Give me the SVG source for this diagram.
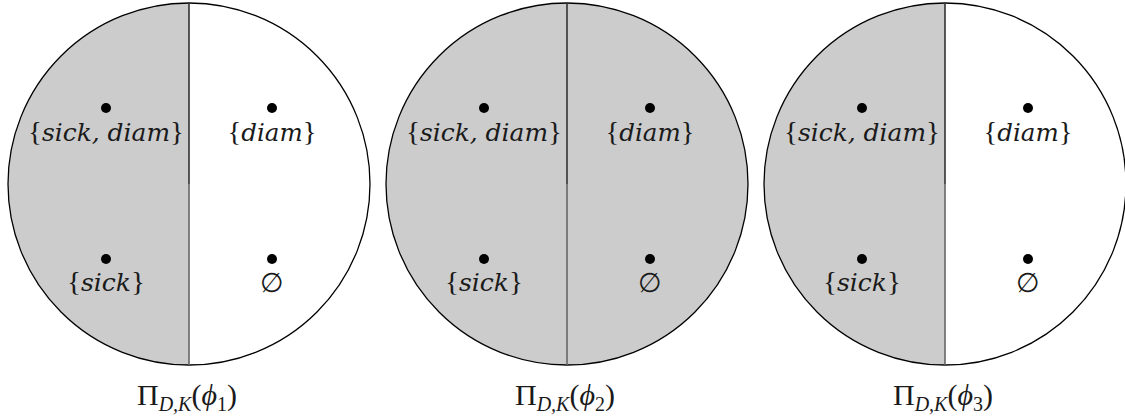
<svg xmlns="http://www.w3.org/2000/svg" width="1125" height="419" viewBox="0 0 1125 419">
<defs>
<style>
.bg{fill:#fff}
.circ{fill:none;stroke:#000;stroke-width:1.3}
.shade{fill:#cccccc;stroke:none}
.ltop{stroke:#333;stroke-width:1.6}
.lbot{stroke:#666;stroke-width:1.6}
.dot{fill:#000}
.lbl{font-family:'DejaVu Serif','Liberation Serif',serif;font-size:24px;font-style:italic;text-anchor:middle;fill:#1a1a1a}
.br{font-style:normal;font-family:'Liberation Serif',serif;font-size:28px}
.empty{font-family:'Liberation Serif',serif;font-size:27px;font-style:normal;text-anchor:middle;fill:#1a1a1a}
.cap{font-family:'Liberation Serif',serif;font-size:30px;fill:#1a1a1a;text-anchor:middle}
.sub{font-size:20px;font-style:italic}
.num{font-size:20px;font-style:normal}
.it{font-style:italic}
</style>
<clipPath id="cl1"><circle cx="189" cy="184" r="181"/></clipPath>
<clipPath id="cl3"><circle cx="945" cy="184" r="181"/></clipPath>
</defs>
<rect class="bg" x="0" y="0" width="1125" height="419"/>

<g id="diagram1">
<rect class="shade" x="0" y="0" width="189" height="370" clip-path="url(#cl1)"/>
<circle class="circ" cx="189" cy="184" r="181"/>
<line class="ltop" x1="189" y1="3" x2="189" y2="184"/>
<line class="lbot" x1="189" y1="184" x2="189" y2="365"/>
<circle class="dot" cx="106" cy="108" r="5"/>
<circle class="dot" cx="272" cy="108" r="5"/>
<circle class="dot" cx="106" cy="259" r="5"/>
<circle class="dot" cx="272" cy="259" r="5"/>
<text class="lbl" x="106" y="141" textLength="156" lengthAdjust="spacingAndGlyphs"><tspan class="br">{</tspan>sick, diam<tspan class="br">}</tspan></text>
<text class="lbl" x="272" y="141" textLength="89" lengthAdjust="spacingAndGlyphs"><tspan class="br">{</tspan>diam<tspan class="br">}</tspan></text>
<text class="lbl" x="106" y="291" textLength="78" lengthAdjust="spacingAndGlyphs"><tspan class="br">{</tspan>sick<tspan class="br">}</tspan></text>
<text class="empty" x="272" y="292">∅</text>
<text class="cap" x="187" y="405">Π<tspan class="sub" dy="6">D,K</tspan><tspan dy="-6">(</tspan><tspan class="it">ϕ</tspan><tspan class="num" dy="6">1</tspan><tspan dy="-6">)</tspan></text>
</g>

<g id="diagram2">
<circle class="shade" cx="567" cy="184" r="181"/>
<circle class="circ" cx="567" cy="184" r="181"/>
<line class="ltop" x1="567" y1="3" x2="567" y2="184"/>
<line class="lbot" x1="567" y1="184" x2="567" y2="365"/>
<circle class="dot" cx="484" cy="108" r="5"/>
<circle class="dot" cx="650" cy="108" r="5"/>
<circle class="dot" cx="484" cy="259" r="5"/>
<circle class="dot" cx="650" cy="259" r="5"/>
<text class="lbl" x="484" y="141" textLength="156" lengthAdjust="spacingAndGlyphs"><tspan class="br">{</tspan>sick, diam<tspan class="br">}</tspan></text>
<text class="lbl" x="650" y="141" textLength="89" lengthAdjust="spacingAndGlyphs"><tspan class="br">{</tspan>diam<tspan class="br">}</tspan></text>
<text class="lbl" x="484" y="291" textLength="78" lengthAdjust="spacingAndGlyphs"><tspan class="br">{</tspan>sick<tspan class="br">}</tspan></text>
<text class="empty" x="650" y="292">∅</text>
<text class="cap" x="565" y="405">Π<tspan class="sub" dy="6">D,K</tspan><tspan dy="-6">(</tspan><tspan class="it">ϕ</tspan><tspan class="num" dy="6">2</tspan><tspan dy="-6">)</tspan></text>
</g>

<g id="diagram3">
<rect class="shade" x="750" y="0" width="195" height="370" clip-path="url(#cl3)"/>
<circle class="circ" cx="945" cy="184" r="181"/>
<line class="ltop" x1="945" y1="3" x2="945" y2="184"/>
<line class="lbot" x1="945" y1="184" x2="945" y2="365"/>
<circle class="dot" cx="862" cy="108" r="5"/>
<circle class="dot" cx="1028" cy="108" r="5"/>
<circle class="dot" cx="862" cy="259" r="5"/>
<circle class="dot" cx="1028" cy="259" r="5"/>
<text class="lbl" x="862" y="141" textLength="156" lengthAdjust="spacingAndGlyphs"><tspan class="br">{</tspan>sick, diam<tspan class="br">}</tspan></text>
<text class="lbl" x="1028" y="141" textLength="89" lengthAdjust="spacingAndGlyphs"><tspan class="br">{</tspan>diam<tspan class="br">}</tspan></text>
<text class="lbl" x="862" y="291" textLength="78" lengthAdjust="spacingAndGlyphs"><tspan class="br">{</tspan>sick<tspan class="br">}</tspan></text>
<text class="empty" x="1028" y="292">∅</text>
<text class="cap" x="943" y="405">Π<tspan class="sub" dy="6">D,K</tspan><tspan dy="-6">(</tspan><tspan class="it">ϕ</tspan><tspan class="num" dy="6">3</tspan><tspan dy="-6">)</tspan></text>
</g>
</svg>
